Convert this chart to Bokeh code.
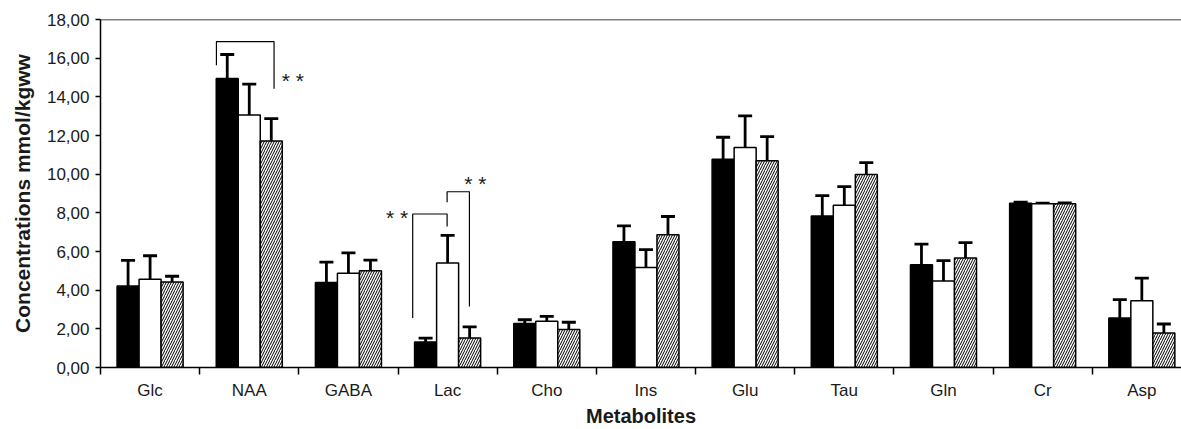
from bokeh.plotting import figure
from bokeh.models import (FixedTicker, Range1d, ColumnDataSource, Whisker, TeeHead, Span)
from bokeh.embed import file_html
from bokeh.resources import INLINE
from bokeh.core.properties import value

categories = ["Glc", "NAA", "GABA", "Lac", "Cho", "Ins", "Glu", "Tau", "Gln", "Cr", "Asp"]
group1 = [4.22, 14.95, 4.40, 1.32, 2.27, 6.50, 10.77, 7.84, 5.32, 8.50, 2.56]
group1_err = [1.32, 1.24, 1.05, 0.20, 0.20, 0.83, 1.14, 1.05, 1.06, 0.05, 0.95]
group2 = [4.56, 13.06, 4.87, 5.40, 2.39, 5.17, 11.38, 8.39, 4.47, 8.47, 3.45]
group2_err = [1.22, 1.60, 1.06, 1.43, 0.25, 0.93, 1.63, 0.97, 1.06, 0.03, 1.17]
group3 = [4.42, 11.72, 5.00, 1.53, 1.96, 6.86, 10.69, 9.98, 5.66, 8.47, 1.79]
group3_err = [0.30, 1.15, 0.55, 0.57, 0.38, 0.95, 1.25, 0.62, 0.80, 0.04, 0.46]
y_ticks = [0, 2, 4, 6, 8, 10, 12, 14, 16, 18]
y_tick_labels = ["0,00", "2,00", "4,00", "6,00", "8,00", "10,00", "12,00", "14,00", "16,00", "18,00"]
y_title = "Concentrations mmol/kgww"
x_title = "Metabolites"

# significance brackets: (category, left offset, right offset, left-bottom y, top y, right-bottom y)
brackets = [
    ("NAA", -0.331, 0.25, 15.63, 16.86, 14.42),
    ("Lac", -0.352, -0.005, 2.56, 7.94, 7.29),
    ("Lac", -0.005, 0.22, 8.55, 9.09, 3.16),
]
# star labels: (category, offset, y)
stars = [
    ("NAA", 0.44, 15.1),
    ("Lac", -0.51, 8.0),
    ("Lac", 0.28, 9.8),
]

FONT = "Liberation Sans"
TXT = "#1a1a1a"
BW = 0.222

p = figure(width=1181, height=429, output_backend="svg", toolbar_location=None,
           x_range=Range1d(0, 10.9), y_range=Range1d(0, 18),
           min_border_left=100, min_border_right=0, min_border_top=19, min_border_bottom=61)
p.outline_line_color = None
p.grid.grid_line_color = None
p.background_fill_color = "white"
p.border_fill_color = "white"

centers = [i + 0.5 for i in range(len(categories))]
groups = [(group1, group1_err, -BW, "black", None),
          (group2, group2_err, 0.0, "white", None),
          (group3, group3_err, BW, "white", "/")]
for vals, errs, off, fill, hatch in groups:
    xs = [c + off for c in centers]
    src = ColumnDataSource(dict(x=xs, top=vals,
                                upper=[v + e for v, e in zip(vals, errs)],
                                lower=[v - e for v, e in zip(vals, errs)]))
    kw = {}
    if hatch:
        kw = dict(hatch_pattern=hatch, hatch_scale=5, hatch_weight=1, hatch_color="black")
    p.vbar(x="x", top="top", bottom=0, width=BW, source=src, fill_color=fill,
           line_color="black", line_width=1.5, **kw)
    w = Whisker(base="x", upper="upper", lower="lower", source=src, dimension="height",
                line_color="black", line_width=2.8,
                upper_head=TeeHead(size=14, line_width=2.8, line_color="black"),
                lower_head=TeeHead(size=14, line_width=2.8, line_color="black"))
    p.add_layout(w)

for cat, lo, ro, yl, yt, yr in brackets:
    c = categories.index(cat) + 0.5
    p.line([c + lo, c + lo, c + ro, c + ro], [yl, yt, yt, yr], line_color="black", line_width=1.2)

sx = [categories.index(c) + 0.5 + o for c, o, y in stars]
sy = [y for c, o, y in stars]
p.text(x=sx, y=sy, text=["* *"] * len(sx), text_align="center", text_baseline="middle",
       text_font=value(FONT), text_font_size="21px", text_color=TXT, y_offset=5)

p.add_layout(Span(location=18, dimension="width", line_color="black", line_width=1.5))

# x axis
xa = p.xaxis[0]
xa.ticker = FixedTicker(ticks=centers, minor_ticks=list(range(len(categories) + 1)))
xa.major_label_overrides = {c: n for c, n in zip(centers, categories)}
xa.major_tick_line_color = None
xa.minor_tick_line_color = "black"
xa.minor_tick_line_width = 1.5
xa.minor_tick_out = 7
xa.minor_tick_in = 0
xa.axis_line_width = 1.5
xa.major_label_text_font = FONT
xa.major_label_text_font_size = "17px"
xa.major_label_text_color = TXT
xa.major_label_standoff = 6
xa.axis_label = x_title
xa.axis_label_text_font = FONT
xa.axis_label_text_font_size = "20px"
xa.axis_label_text_font_style = "bold"
xa.axis_label_text_color = TXT
xa.axis_label_standoff = 2

ya = p.yaxis[0]
ya.ticker = FixedTicker(ticks=y_ticks)
ya.major_label_overrides = {t: l for t, l in zip(y_ticks, y_tick_labels)}
ya.major_tick_out = 5
ya.major_tick_in = 0
ya.major_tick_line_width = 1.5
ya.minor_tick_line_color = None
ya.axis_line_width = 1.5
ya.major_label_text_font = FONT
ya.major_label_text_font_size = "17px"
ya.major_label_text_color = TXT
ya.major_label_standoff = 6
ya.axis_label = y_title
ya.axis_label_text_font = FONT
ya.axis_label_text_font_size = "21px"
ya.axis_label_text_font_style = "bold"
ya.axis_label_text_color = TXT
ya.axis_label_standoff = 10

open("out.html", "w").write(file_html(p, INLINE))
